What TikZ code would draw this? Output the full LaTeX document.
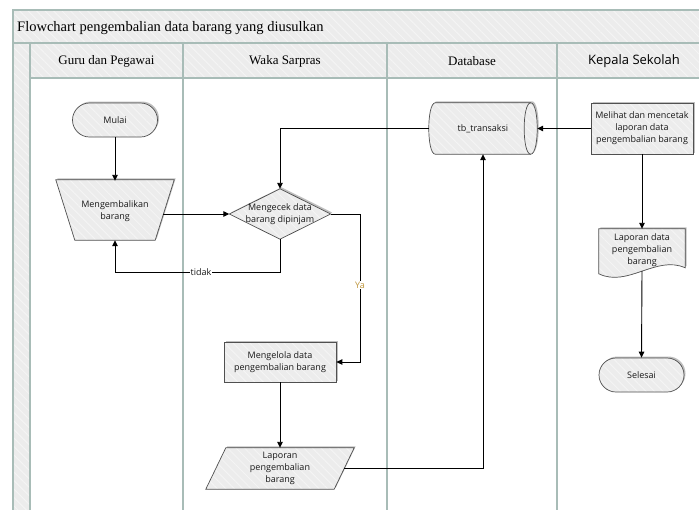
\documentclass[tikz,border=0pt]{standalone}
\usepackage{fontspec}
\setmainfont{Liberation Serif}
\newfontfamily\nodefont{Open Sans}
\usetikzlibrary{arrows.meta,shapes.geometric,patterns.meta,calc,shadows}
\definecolor{lane}{RGB}{168,188,183}
\definecolor{hdr}{RGB}{236,236,236}
\definecolor{hatchc}{RGB}{244,244,244}
\definecolor{shp}{RGB}{236,236,236}
\definecolor{edgec}{RGB}{80,80,80}
\definecolor{yac}{RGB}{190,150,60}
\pgfdeclarelayer{back}
\pgfdeclarelayer{bg}
\pgfsetlayers{back,bg,main}
\begin{document}
\begin{tikzpicture}[x=1pt,y=-1pt,
  hatch/.style={preaction={pattern={Lines[angle=-45,distance=6pt,line width=1pt]},pattern color=hatchc}},
  laneln/.style={draw=lane,line width=1.2pt},
  shadowed/.style={drop shadow={shadow xshift=1.5pt,shadow yshift=1.5pt,opacity=.25,fill=black}},
  shpstyle/.style={shadowed,preaction={fill=shp},hatch,draw=edgec,line width=0.7pt},
  txt/.style={font=\nodefont\fontsize{9}{12}\selectfont,align=center,text=black!90,inner sep=0pt},
  proc/.style={txt,shpstyle,rectangle},
  term/.style={proc,rounded corners=17pt},
  box/.style={txt,rectangle},
  arr/.style={draw=black,line width=0.9pt,-{Triangle[length=6pt,width=5.5pt]}},
  lbl/.style={txt,fill=white,inner sep=1pt},
  hdrtxt/.style={font=\fontsize{13}{15}\selectfont,inner sep=0pt}
]
\useasboundingbox (0,0) rectangle (699,509);
\clip (0,0) rectangle (699,509);
\begin{pgfonlayer}{back}
\fill[white] (0,0) rectangle (699,509);
\path[preaction={fill=hdr},hatch] (13,10) rectangle (720,43);
\path[preaction={fill=hdr},hatch] (13,43) rectangle (720,78);
\path[preaction={fill=hdr},hatch] (13,78) rectangle (30,530);
\draw[laneln] (13,10) rectangle (720,540);
\draw[laneln] (13,43) -- (720,43);
\draw[laneln] (30,78) -- (720,78);
\foreach \x in {30,183,387,557} \draw[laneln] (\x,43) -- (\x,540);
\end{pgfonlayer}
\node[anchor=west,font=\fontsize{14.5}{16}\selectfont,inner sep=0pt] (title) at (17,28) {Flowchart pengembalian data barang yang diusulkan};
\node[hdrtxt] (h1) at (106.5,61) {Guru dan Pegawai};
\node[hdrtxt] (h2) at (285,61) {Waka Sarpras};
\node[hdrtxt] (h3) at (472,61) {Database};
\node[font=\nodefont\fontsize{13}{15}\selectfont,inner sep=0pt] (h4) at (634,61) {Kepala Sekolah};

\node[term,minimum width=85pt,minimum height=34pt] (mulai) at (115,120) {Mulai};
\node[box,minimum width=118pt,minimum height=60pt] (trap) at (115,211) {Mengembalikan\\barang};
\node[box,minimum width=101pt,minimum height=50pt] (dia) at (280,214) {Mengecek data\\barang dipinjam};
\node[proc,minimum width=112pt,minimum height=40pt] (mp) at (280,362) {Mengelola data\\pengembalian barang};
\node[box,minimum width=148pt,minimum height=41pt] (lap) at (280,468.5) {Laporan\\pengembalian\\barang};
\node[box,minimum width=108pt,minimum height=51pt] (tb) at (483,128.5) {tb\_transaksi};
\node[proc,minimum width=102pt,minimum height=51pt] (kp) at (642,128.5) {Melihat dan mencetak\\laporan data\\pengembalian barang};
\node[box,minimum width=86pt,minimum height=42pt] (doc) at (642,250) {Laporan data\\pengembalian\\barang};
\node[term,minimum width=85pt,minimum height=34pt] (sel) at (641.5,375) {Selesai};
\coordinate (docb) at ($(doc.north)+(0,42)$);

\begin{pgfonlayer}{bg}
\path[shpstyle] ($(trap.north west)+(0,-1)$) -- ($(trap.north east)+(0,-1)$) -- ($(trap.south east)+(-19,-1)$) -- ($(trap.south west)+(19,-1)$) -- cycle;
\path[shpstyle] (dia.north) -- (dia.east) -- (dia.south) -- (dia.west) -- cycle;
\path[shpstyle] ($(lap.north west)+(20,0)$) -- (lap.north east) -- ($(lap.south east)+(-20,0)$) -- (lap.south west) -- cycle;
\path[shpstyle] (doc.north west) -- (doc.north east) -- ($(doc.north east)+(0,39)$) .. controls ($(doc.north east)+(-29,26)$) and ($(doc.north west)+(29,59)$) .. ($(doc.north west)+(0,45)$) -- cycle;
% horizontal cylinder (direct access storage)
\path[shpstyle] ($(tb.north west)+(6.5,0)$) -- ($(tb.north east)+(-6.5,0)$)
  .. controls ($(tb.north east)+(2.2,0)$) and ($(tb.south east)+(2.2,0)$) .. ($(tb.south east)+(-6.5,0)$)
  -- ($(tb.south west)+(6.5,0)$)
  .. controls ($(tb.south west)+(-2.2,0)$) and ($(tb.north west)+(-2.2,0)$) .. cycle;
\draw[draw=edgec,line width=0.7pt] ($(tb.north east)+(-6.5,0)$) .. controls ($(tb.north east)+(-15.2,0)$) and ($(tb.south east)+(-15.2,0)$) .. ($(tb.south east)+(-6.5,0)$);
\end{pgfonlayer}

\draw[arr] (mulai.south) -- (trap.north);
\draw[arr] ($(trap.east)+(-11,3)$) -- (dia.west);
\draw[arr] (tb.west) -| (dia.north);
\draw[arr] (dia.south) -- ++(0,33) -| ($(trap.south)+(0,-1)$);
\node[lbl] (tidak) at (201,272) {tidak};
\draw[arr] (dia.east) -- ++(30,0) |- (mp.east);
\node[lbl,text=yac] (ya) at (360,285) {Ya};
\draw[arr] (mp.south) -- (lap.north);
\draw[arr] ($(lap.east)+(-10,0)$) -| (tb.south);
\draw[arr] (kp.west) -- (tb.east);
\draw[arr] (kp.south) -- (doc.north);
\draw[arr] (docb) -- (sel.north);
\end{tikzpicture}
\end{document}
